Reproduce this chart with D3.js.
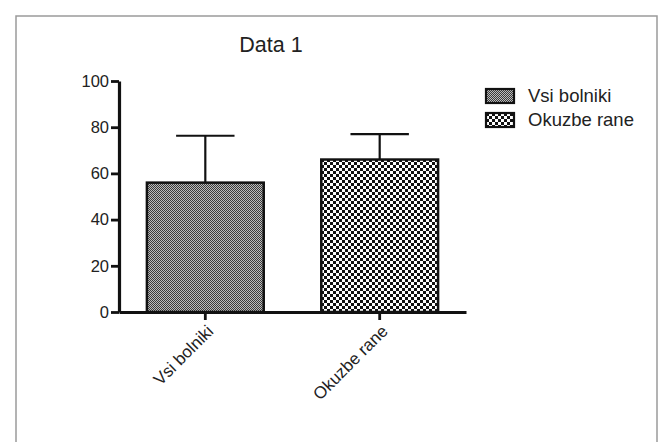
<!DOCTYPE html>
<html>
<head>
<meta charset="utf-8">
<script src="https://cdn.jsdelivr.net/npm/d3@7"></script>
<style>
  body { margin: 0; background: #fff; }
  svg { display: block; font-family: "Liberation Sans", Arial, sans-serif; }
</style>
</head>
<body>
<svg id="chart" width="662" height="442"></svg>
<script>
// data
var categories = ['Vsi bolniki', 'Okuzbe rane'];
var means = [56, 66];
var errors = [20.3, 11];
var yTicks = [0, 20, 40, 60, 80, 100];
var patternIds = ['pat-fine', 'pat-check'];

var svg = d3.select('#chart');

// frame
svg.append('rect')
  .attr('x', 16).attr('y', 16)
  .attr('width', 641).attr('height', 440)
  .attr('fill', 'none')
  .attr('stroke', '#9a9a9a')
  .attr('stroke-width', 1.5);

var defs = svg.append('defs');

// fine gray dots
var fine = defs.append('pattern')
  .attr('id', 'pat-fine')
  .attr('patternUnits', 'userSpaceOnUse')
  .attr('width', 2).attr('height', 2);
fine.append('rect').attr('width', 2).attr('height', 2).attr('fill', '#bcbcbc');
fine.append('rect').attr('x', 0).attr('y', 0).attr('width', 1).attr('height', 1).attr('fill', '#3a3a3a');
fine.append('rect').attr('x', 1).attr('y', 1).attr('width', 1).attr('height', 1).attr('fill', '#3a3a3a');

// checkerboard
var check = defs.append('pattern')
  .attr('id', 'pat-check')
  .attr('patternUnits', 'userSpaceOnUse')
  .attr('width', 6).attr('height', 6);
check.append('rect').attr('width', 6).attr('height', 6).attr('fill', '#fff');
check.append('rect').attr('x', 0).attr('y', 0).attr('width', 3).attr('height', 3).attr('fill', '#111');
check.append('rect').attr('x', 3).attr('y', 3).attr('width', 3).attr('height', 3).attr('fill', '#111');

var x = d3.scaleBand()
  .domain(categories)
  .range([119, 466])
  .paddingInner(0.33)
  .paddingOuter(0.16);

var y = d3.scaleLinear()
  .domain([0, 100])
  .range([312, 81]);

// title
svg.append('text')
  .attr('x', 271).attr('y', 52)
  .attr('text-anchor', 'middle')
  .attr('font-size', 21.5)
  .attr('fill', '#222')
  .text('Data 1');

// error bars (upper only)
var err = svg.append('g').attr('stroke', '#111').attr('stroke-width', 2.2);
categories.forEach(function(c, i) {
  var cx = x(c) + x.bandwidth() / 2;
  var capW = x.bandwidth() / 2;
  err.append('line')
    .attr('x1', cx).attr('x2', cx)
    .attr('y1', y(means[i])).attr('y2', y(means[i] + errors[i]));
  err.append('line')
    .attr('x1', cx - capW / 2).attr('x2', cx + capW / 2)
    .attr('y1', y(means[i] + errors[i])).attr('y2', y(means[i] + errors[i]));
});

// bars
svg.append('g').selectAll('rect')
  .data(categories)
  .enter().append('rect')
    .attr('x', function(d) { return x(d); })
    .attr('y', function(d, i) { return y(means[i]); })
    .attr('width', x.bandwidth())
    .attr('height', function(d, i) { return y(0) - y(means[i]); })
    .attr('fill', function(d, i) { return 'url(#' + patternIds[i] + ')'; })
    .attr('stroke', '#111')
    .attr('stroke-width', 2.5);

// y axis
var yAxis = svg.append('g')
  .attr('transform', 'translate(119,0)')
  .call(d3.axisLeft(y).tickValues(yTicks).tickSize(8).tickSizeOuter(0).tickPadding(2));
yAxis.select('.domain').attr('stroke', '#111').attr('stroke-width', 3.2);
yAxis.selectAll('.tick line').attr('stroke', '#111').attr('stroke-width', 2.8);
yAxis.selectAll('.tick text')
  .attr('font-size', 16.5)
  .attr('font-family', '"Liberation Sans", Arial, sans-serif')
  .attr('fill', '#222');

// x axis
var xAxis = svg.append('g')
  .attr('transform', 'translate(0,312)')
  .call(d3.axisBottom(x).tickSize(8).tickSizeOuter(0).tickPadding(6));
xAxis.select('.domain').attr('stroke', '#111').attr('stroke-width', 3.2);
xAxis.selectAll('.tick line').attr('stroke', '#111').attr('stroke-width', 2.8);
xAxis.selectAll('.tick text')
  .attr('font-size', 17)
  .attr('font-family', '"Liberation Sans", Arial, sans-serif')
  .attr('fill', '#222')
  .attr('text-anchor', 'end')
  .attr('dy', '0.35em')
  .attr('transform', 'translate(5,16) rotate(-45)')
  .attr('y', 0).attr('x', 0);

// legend
var legend = svg.append('g').attr('transform', 'translate(486,89)');
var items = legend.selectAll('g')
  .data(categories)
  .enter().append('g')
    .attr('transform', function(d, i) { return 'translate(0,' + (i * 24) + ')'; });
items.append('rect')
  .attr('width', 28).attr('height', 14)
  .attr('fill', function(d, i) { return 'url(#' + patternIds[i] + ')'; })
  .attr('stroke', '#111')
  .attr('stroke-width', 2.2);
items.append('text')
  .attr('x', 42).attr('y', 7)
  .attr('dy', '0.35em')
  .attr('font-size', 18.5)
  .attr('fill', '#222')
  .text(function(d) { return d; });
</script>
</body>
</html>
